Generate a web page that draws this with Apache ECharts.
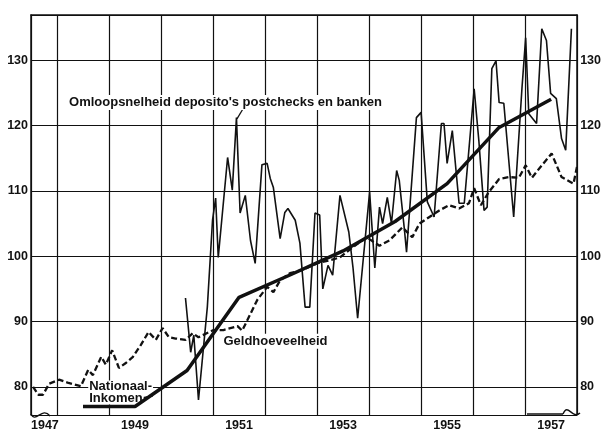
<!DOCTYPE html>
<html>
<head>
<meta charset="utf-8">
<script src="https://cdn.jsdelivr.net/npm/echarts@6/dist/echarts.min.js"></script>
<style>
  html, body { margin: 0; padding: 0; background: #fff; }
  #chart { width: 604px; height: 432px; }
</style>
</head>
<body>
<div id="chart"></div>
<script>
// jaartallen onder de as (label staat midden in het jaar)
const jaarLabels = [1947, 1949, 1951, 1953, 1955, 1957]
const yLabels = [80, 90, 100, 110, 120, 130]

// Omloopsnelheid deposito's postchecks en banken (maandcijfers)
const omloopTijd = [
  1950.47, 1950.57, 1950.63, 1950.72, 1950.89, 1950.99, 1951.05, 1951.10, 1951.28, 1951.37,
  1951.45, 1951.52, 1951.62, 1951.72, 1951.81, 1951.94, 1952.04, 1952.10, 1952.16, 1952.29,
  1952.38, 1952.44, 1952.58, 1952.67, 1952.77, 1952.86, 1952.96, 1953.05, 1953.11, 1953.21,
  1953.30, 1953.44, 1953.61, 1953.69, 1953.78, 1954.01, 1954.11, 1954.20, 1954.26, 1954.35,
  1954.43, 1954.53, 1954.58, 1954.68, 1954.72, 1954.91, 1955.00, 1955.12, 1955.25, 1955.39,
  1955.44, 1955.50, 1955.60, 1955.73, 1955.83, 1956.02, 1956.11, 1956.21, 1956.27, 1956.36,
  1956.44, 1956.50, 1956.59, 1956.78, 1956.94, 1957.01, 1957.07, 1957.22, 1957.32, 1957.41,
  1957.49, 1957.60, 1957.70, 1957.78, 1957.89
]
const omloopWaarde = [
  93.6, 85.3, 87.9, 78.0, 92.2, 105.5, 108.9, 99.8, 115.1, 110.1,
  121.2, 106.6, 109.3, 102.4, 98.9, 114.0, 114.2, 111.9, 110.5, 102.7,
  106.7, 107.3, 105.5, 102.0, 92.2, 92.2, 106.6, 106.3, 95.0, 98.6,
  97.1, 109.3, 103.7, 98.3, 90.5, 109.8, 98.2, 107.5, 105.0, 109.0,
  105.0, 113.1, 111.6, 104.0, 100.6, 121.2, 122.0, 108.3, 106.0, 120.3,
  120.3, 114.2, 119.2, 108.1, 108.1, 125.6, 117.7, 107.0, 107.5, 128.7,
  129.9, 123.5, 123.4, 106.0, 125.8, 133.4, 121.8, 120.3, 134.8, 133.0,
  124.9, 124.1, 118.0, 116.2, 134.8
]

// Geldhoeveelheid
const geldTijd = [
  1947.54, 1947.64, 1947.73, 1947.85, 1948.04, 1948.22, 1948.46, 1948.60, 1948.69, 1948.85,
  1948.94, 1949.06, 1949.19, 1949.33, 1949.46, 1949.61, 1949.76, 1949.90, 1950.03, 1950.15,
  1950.28, 1950.47, 1950.61, 1950.72, 1951.01, 1951.20, 1951.47, 1951.56, 1951.85, 1952.04,
  1952.16, 1952.29, 1952.48, 1952.73, 1953.00, 1953.25, 1953.44, 1953.69, 1953.95, 1954.20,
  1954.39, 1954.64, 1954.83, 1954.97, 1955.16, 1955.35, 1955.54, 1955.73, 1955.92, 1956.02,
  1956.15, 1956.30, 1956.50, 1956.69, 1956.88, 1957.01, 1957.13, 1957.32, 1957.51, 1957.70,
  1957.93, 1958.00
]
const geldWaarde = [
  80.0, 78.8, 78.8, 80.5, 81.1, 80.6, 80.1, 82.6, 81.8, 84.6,
  83.4, 85.6, 82.9, 83.7, 84.6, 86.4, 88.4, 87.2, 89.0, 87.6,
  87.4, 87.2, 88.2, 87.6, 88.7, 88.7, 89.3, 88.6, 93.3, 95.3,
  94.5, 96.3, 97.4, 97.9, 98.9, 99.4, 99.8, 101.4, 102.9, 101.6,
  102.4, 104.4, 102.9, 105.0, 106.0, 107.0, 107.8, 107.3, 108.1, 110.4,
  107.8, 109.8, 111.8, 112.1, 112.0, 113.9, 112.0, 113.9, 115.7, 112.1,
  111.1, 113.8
]

// Nationaal Inkomen (jaarcijfers, midden van het jaar)
const inkomenTijd = [1948.5, 1949.5, 1950.5, 1951.5, 1952.5, 1953.5, 1954.5, 1955.5, 1956.5, 1957.5]
const inkomenWaarde = [77.0, 77.0, 82.5, 93.7, 97.2, 100.8, 105.3, 111.1, 119.7, 124.0]

const zip = (xs, ys) => xs.map((x, i) => [x, ys[i]])

const FONT = 'Liberation Sans'
const INK = '#111'

const tekst = (coord, text, extra) => ({
  coord,
  value: text,
  symbolSize: 0,
  label: Object.assign({
    show: true,
    position: 'inside',
    formatter: text,
    color: INK,
    fontFamily: FONT,
    fontWeight: 'bold',
    fontSize: 13,
    backgroundColor: '#fff',
    padding: [1, 2]
  }, extra || {})
})

const lijntje = (a, b) => [{ coord: a }, { coord: b }]

const yLabel = {
  showMinLabel: false,
  showMaxLabel: false,
  formatter: v => (yLabels.includes(Math.round(v * 100) / 100) ? String(v) : ''),
  margin: 3,
  color: INK,
  fontFamily: FONT,
  fontWeight: 'bold',
  fontSize: 12.5
}

const chart = echarts.init(document.getElementById('chart'))

const option = {
  animation: false,
  backgroundColor: '#fff',
  grid: { left: 31, right: 24, top: 15, bottom: 17 },
  xAxis: [
    {
      type: 'value',
      min: 1947.5,
      max: 1958,
      splitNumber: 10,
      axisLine: { show: false },
      axisTick: { show: false },
      splitLine: { show: true, lineStyle: { color: INK, width: 1.2 } },
      axisLabel: {
        customValues: jaarLabels.map(j => j + 0.5),
        formatter: v => String(Math.floor(v)),
        alignMinLabel: 'left',
        margin: 4,
        color: INK,
        fontFamily: FONT,
        fontWeight: 'bold',
        fontSize: 12.5
      }
    },
    {
      type: 'value',
      position: 'top',
      min: 1947.5,
      max: 1958,
      axisLine: { show: true, lineStyle: { color: INK, width: 1.5 } },
      axisTick: { show: false },
      axisLabel: { show: false },
      splitLine: { show: false }
    }
  ],
  yAxis: [
    {
      type: 'value',
      min: 75.7,
      max: 136.9,
      axisLine: { show: true, lineStyle: { color: INK, width: 1.5 } },
      axisTick: { show: false },
      splitLine: { show: true, lineStyle: { color: INK, width: 1.2 } },
      axisLabel: yLabel
    },
    {
      type: 'value',
      position: 'right',
      min: 75.7,
      max: 136.9,
      axisLine: { show: true, lineStyle: { color: INK, width: 1.5 } },
      axisTick: { show: false },
      splitLine: { show: false },
      axisLabel: yLabel
    }
  ],
  // afgebroken onderrand links en rechts
  graphic: [
    {
      type: 'bezierCurve',
      silent: true,
      shape: { x1: 31, y1: 414, cpx1: 36, cpy1: 424, cpx2: 42, cpy2: 406, x2: 50, y2: 416 },
      style: { stroke: INK, lineWidth: 1.4, fill: null }
    },
    {
      type: 'polyline',
      silent: true,
      shape: { points: [[527, 414], [563, 414]] },
      style: { stroke: INK, lineWidth: 1.4, fill: null }
    },
    {
      type: 'bezierCurve',
      silent: true,
      shape: { x1: 563, y1: 414, cpx1: 568, cpy1: 402, cpx2: 572, cpy2: 420, x2: 580, y2: 413 },
      style: { stroke: INK, lineWidth: 1.4, fill: null }
    }
  ],
  series: [
    {
      name: 'Geldhoeveelheid',
      type: 'line',
      data: zip(geldTijd, geldWaarde),
      showSymbol: false,
      lineStyle: { color: INK, width: 2.3, type: [6, 3] },
      markPoint: {
        data: [tekst([1952.2, 87.0], 'Geldhoeveelheid')]
      },
      z: 3
    },
    {
      name: 'Omloopsnelheid',
      type: 'line',
      data: zip(omloopTijd, omloopWaarde),
      showSymbol: false,
      lineStyle: { color: INK, width: 1.6 },
      markPoint: {
        data: [tekst([1951.24, 123.5], "Omloopsnelheid deposito's postchecks en banken")]
      },
      markLine: {
        symbol: 'none',
        silent: true,
        lineStyle: { color: INK, width: 1.3, type: 'solid' },
        label: { show: false },
        data: [lijntje([1951.58, 122.6], [1951.46, 121.0])]
      },
      z: 4
    },
    {
      name: 'Nationaal Inkomen',
      type: 'line',
      data: zip(inkomenTijd, inkomenWaarde),
      showSymbol: false,
      lineStyle: { color: INK, width: 3.5 },
      markPoint: {
        data: [
          tekst([1948.6, 80.0], 'Nationaal-', { position: 'right', distance: 0, padding: [0, 1] }),
          tekst([1948.6, 78.3], 'Inkomen', { position: 'right', distance: 0, padding: [0, 1] })
        ]
      },
      markLine: {
        symbol: 'none',
        silent: true,
        lineStyle: { color: INK, width: 1.5, type: 'solid' },
        label: { show: false },
        data: [lijntje([1949.62, 78.3], [1949.84, 78.6])]
      },
      z: 5
    }
  ]
}

chart.setOption(option)
</script>
</body>
</html>
